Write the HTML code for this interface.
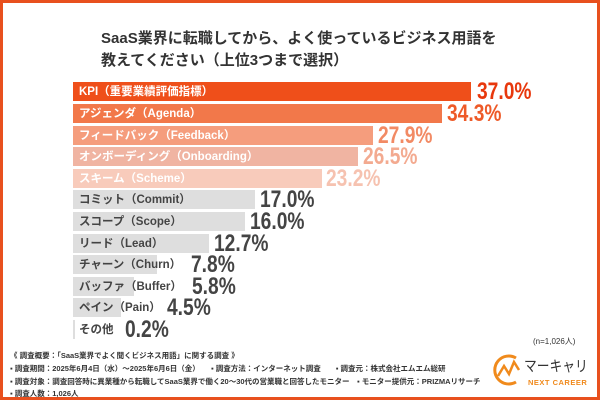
<!DOCTYPE html>
<html><head><meta charset="utf-8"><style>
body{margin:0;width:600px;height:400px;overflow:hidden;background:#fff;font-family:"Liberation Sans","Noto Sans CJK JP",sans-serif;}
.frame{position:absolute;left:0;top:0;width:594px;height:394px;border:3px solid #e8501e;}
.t{position:absolute;left:101px;font-size:15px;font-weight:bold;color:#333;white-space:nowrap;}
.bar{position:absolute;left:73px;height:19px;}
.lb{position:absolute;left:79px;font-size:11.5px;font-weight:bold;white-space:nowrap;line-height:21px;}
.v{position:absolute;font-size:24px;font-weight:bold;line-height:22px;white-space:nowrap;transform:scaleX(0.8);transform-origin:0 0;}
.f{position:absolute;left:10px;font-size:7.5px;color:#333;white-space:nowrap;font-weight:bold;}
</style></head><body>
<div class="frame"></div>
<div class="t" style="top:27px">SaaS業界に転職してから、よく使っているビジネス用語を</div>
<div class="t" style="top:49px">教えてください（上位3つまで選択）</div>

<div class="bar" style="top:82px;width:398px;background:#ef4f1a"></div>
<div class="bar" style="top:104px;width:369px;background:#f2784a"></div>
<div class="bar" style="top:126px;width:300px;background:#f59d7d"></div>
<div class="bar" style="top:147px;width:285px;background:#f0b4a2"></div>
<div class="bar" style="top:169px;width:249px;background:#f8cbbb"></div>
<div class="bar" style="top:190px;width:182px;background:#dedede"></div>
<div class="bar" style="top:212px;width:172px;background:#dedede"></div>
<div class="bar" style="top:234px;width:136px;background:#dedede"></div>
<div class="bar" style="top:255px;width:84px;background:#dedede"></div>
<div class="bar" style="top:277px;width:61px;background:#dedede"></div>
<div class="bar" style="top:298px;width:48px;background:#dedede"></div>
<div class="bar" style="top:320px;width:2px;background:#dedede"></div>

<div class="lb" style="top:82px;color:#fff">KPI（重要業績評価指標）</div>
<div class="lb" style="top:104px;color:#fff">アジェンダ（Agenda）</div>
<div class="lb" style="top:126px;color:#fff">フィードバック（Feedback）</div>
<div class="lb" style="top:147px;color:#fff">オンボーディング（Onboarding）</div>
<div class="lb" style="top:169px;color:#fff">スキーム（Scheme）</div>
<div class="lb" style="top:190px;color:#444">コミット（Commit）</div>
<div class="lb" style="top:212px;color:#444">スコープ（Scope）</div>
<div class="lb" style="top:234px;color:#444">リード（Lead）</div>
<div class="lb" style="top:255px;color:#444">チャーン（Churn）</div>
<div class="lb" style="top:277px;color:#444">バッファ（Buffer）</div>
<div class="lb" style="top:298px;color:#444">ペイン（Pain）</div>
<div class="lb" style="top:320px;color:#444">その他</div>

<div class="v" style="top:81px;left:477px;color:#e8380d">37.0%</div>
<div class="v" style="top:103px;left:447px;color:#ee5a28">34.3%</div>
<div class="v" style="top:125px;left:378px;color:#f28a64">27.9%</div>
<div class="v" style="top:146px;left:363px;color:#f3aa90">26.5%</div>
<div class="v" style="top:168px;left:326px;color:#f6c2b0">23.2%</div>
<div class="v" style="top:189px;left:260px;color:#444">17.0%</div>
<div class="v" style="top:211px;left:250px;color:#444">16.0%</div>
<div class="v" style="top:233px;left:214px;color:#444">12.7%</div>
<div class="v" style="top:254px;left:191px;color:#444">7.8%</div>
<div class="v" style="top:276px;left:192px;color:#444">5.8%</div>
<div class="v" style="top:297px;left:167px;color:#444">4.5%</div>
<div class="v" style="top:319px;left:125px;color:#444">0.2%</div>

<div style="position:absolute;left:533px;top:336px;font-size:8px;color:#333">(n=1,026人)</div>
<div class="f" style="top:350px">《 調査概要：「SaaS業界でよく聞くビジネス用語」に関する調査 》</div>
<div class="f" style="top:363px">▪ 調査期間：2025年6月4日（水）〜2025年6月6日（金）　　▪ 調査方法：インターネット調査　　▪ 調査元：株式会社エムエム総研</div>
<div class="f" style="top:376px">▪ 調査対象：調査回答時に異業種から転職してSaaS業界で働く20〜30代の営業職と回答したモニター　▪ モニター提供元：PRIZMAリサーチ</div>
<div class="f" style="top:388px">▪ 調査人数：1,026人</div>

<svg style="position:absolute;left:492px;top:352px" width="30" height="36" viewBox="0 0 30 36">
<path d="M24 6 A14 14 0 1 0 24 30" fill="none" stroke="#f08a1c" stroke-width="3"/>
<polyline points="6,24 12,14 17,22 22,10 27,18" fill="none" stroke="#f08a1c" stroke-width="2.5"/>
</svg>
<div style="position:absolute;left:524px;top:355px;font-size:15px;color:#333;white-space:nowrap;transform:scaleX(0.85);transform-origin:0 0">マーキャリ</div>
<div style="position:absolute;left:528px;top:378px;font-size:7.5px;font-weight:bold;color:#f08a1c;letter-spacing:0.5px;white-space:nowrap">NEXT CAREER</div>
</body></html>
